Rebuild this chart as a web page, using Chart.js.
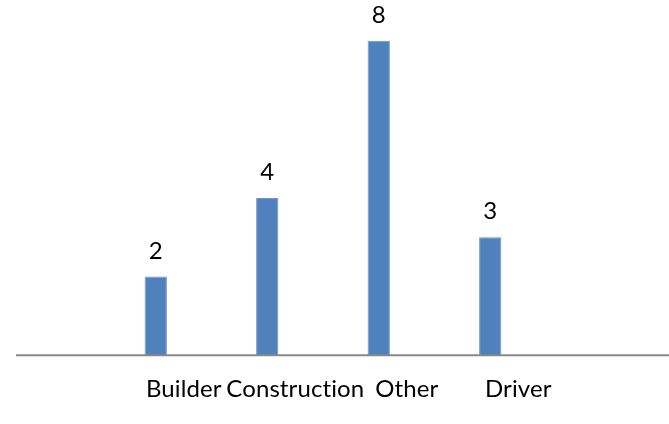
<!DOCTYPE html>
<html>
<head>
<meta charset="utf-8">
<script src="https://cdn.jsdelivr.net/npm/chart.js@4.4.1/dist/chart.umd.min.js"></script>
<style>
  html, body { margin: 0; padding: 0; background: #fff; }
  #wrap { width: 669px; height: 424px; position: relative; }
</style>
</head>
<body>
<div id="wrap"><canvas id="chart"></canvas></div>
<script>
const categories = ['Builder', 'Construction', 'Other', 'Driver'];
const counts = [2, 4, 8, 3];

const FONT = 'Lato, "Open Sans", sans-serif';

// tiny letter spacing switches off the Lato "ti" ligature
const noLigatures = {
  id: 'noLigatures',
  beforeDraw(chart) {
    if ('letterSpacing' in chart.ctx) chart.ctx.letterSpacing = '0.1px';
  }
};

// value labels above each bar
const valueLabels = {
  id: 'valueLabels',
  afterDatasetsDraw(chart) {
    const ctx = chart.ctx;
    const meta = chart.getDatasetMeta(0);
    ctx.save();
    ctx.font = '24px ' + FONT;
    ctx.fillStyle = '#000';
    ctx.textAlign = 'center';
    ctx.textBaseline = 'alphabetic';
    meta.data.forEach((bar, i) => {
      ctx.fillText(String(counts[i]), bar.x, bar.y - 18);
    });
    ctx.restore();
  }
};

// horizontal axis line running across the whole width
const baseLine = {
  id: 'baseLine',
  afterDatasetsDraw(chart) {
    const ctx = chart.ctx;
    const y = chart.chartArea.bottom;
    ctx.save();
    ctx.strokeStyle = '#888888';
    ctx.lineWidth = 2;
    ctx.beginPath();
    ctx.moveTo(16, y);
    ctx.lineTo(chart.width, y);
    ctx.stroke();
    ctx.restore();
  }
};

new Chart(document.getElementById('chart'), {
  type: 'bar',
  data: {
    labels: categories,
    datasets: [{
      data: counts,
      backgroundColor: '#4F81BD',
      borderColor: '#6F97C9',
      borderWidth: { left: 1, right: 1, top: 1, bottom: 0 },
      categoryPercentage: 1,
      barPercentage: 0.2
    }]
  },
  options: {
    responsive: true,
    maintainAspectRatio: false,
    animation: false,
    layout: { padding: { left: 100, right: 123, top: 1.5, bottom: 0 } },
    plugins: {
      legend: { display: false },
      tooltip: { enabled: false }
    },
    scales: {
      x: {
        grid: { display: false, drawTicks: false },
        border: { display: false },
        ticks: {
          color: '#000',
          font: { family: FONT, size: 24 },
          padding: 20,
          labelOffset: 28,
          maxRotation: 0,
          autoSkip: false
        }
      },
      y: {
        display: false,
        min: 0,
        max: 9
      }
    }
  },
  plugins: [noLigatures, valueLabels, baseLine]
});
</script>
</body>
</html>
